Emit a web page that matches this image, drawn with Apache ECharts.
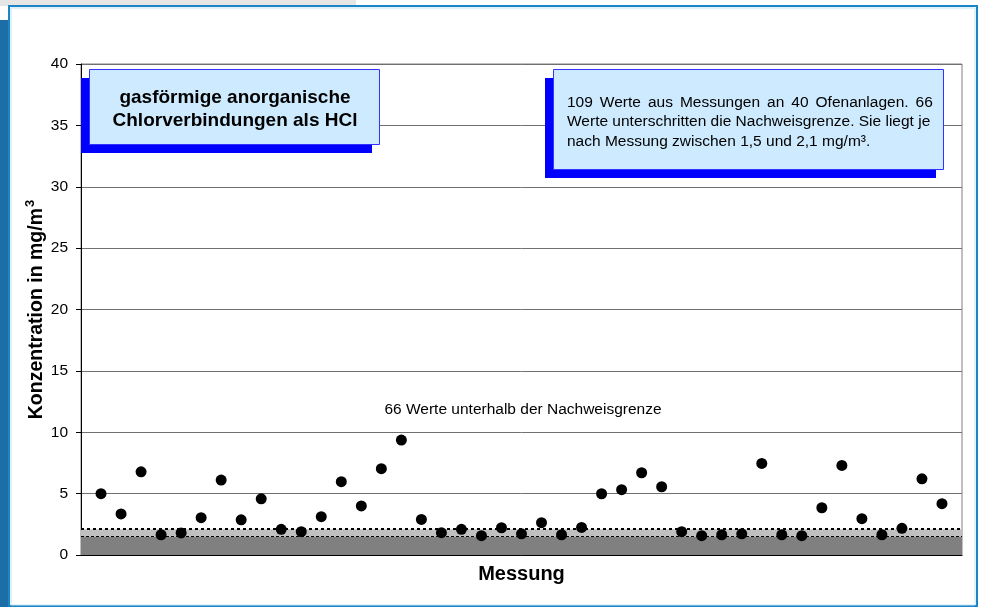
<!DOCTYPE html>
<html>
<head>
<meta charset="utf-8">
<script src="https://cdn.jsdelivr.net/npm/echarts@6/dist/echarts.min.js"></script>
<style>
html,body{margin:0;padding:0;background:#fff;}
#chart{width:981px;height:607px;}
</style>
</head>
<body>
<div id="chart"></div>
<script>
// ---- Data ----
var measurementIndex = [1,2,3,4,5,6,7,8,9,10,11,12,13,14,15,16,17,18,19,20,21,22,23,24,25,26,27,28,29,30,31,32,33,34,35,36,37,38,39,40,41,42,43];
var concentration = [5.0,3.35,6.78,1.65,1.8,3.04,6.1,2.87,4.58,2.09,1.9,3.12,5.97,4.0,7.03,9.36,2.9,1.82,2.09,1.57,2.22,1.73,2.63,1.65,2.25,4.99,5.32,6.7,5.56,1.9,1.57,1.65,1.73,7.46,1.65,1.57,3.85,7.3,2.96,1.65,2.17,6.21,4.18];
var detectionLimits = [1.5, 2.1];
var yTicks = [0,5,10,15,20,25,30,35,40];
var titleText = ['gasförmige anorganische', 'Chlorverbindungen als HCl'];
var infoLine1Words = ['109', 'Werte', 'aus', 'Messungen', 'an', '40', 'Ofenanlagen.', '66'];
var infoLines = ['Werte unterschritten die Nachweisgrenze. Sie liegt je', 'nach Messung zwischen 1,5 und 2,1 mg/m³.'];
var noteText = '66 Werte unterhalb der Nachweisgrenze';
var xName = 'Messung';
var yName = 'Konzentration in mg/m';

var FONT = '"Liberation Sans", Arial, sans-serif';
var chart = echarts.init(document.getElementById('chart'));

var points = measurementIndex.map(function(x, i){ return [x, concentration[i]]; });
var infoText = infoLine1Words.join('{g| }') + '\n' + infoLines.join('\n');

var option = {
  animation: false,
  backgroundColor: '#ffffff',
  grid: {left: 81, right: 19, top: 64, bottom: 52, show: true, borderColor: '#808080', borderWidth: 1, backgroundColor: 'transparent'},
  xAxis: {
    type: 'value', min: 0, max: measurementIndex.length + 1,
    axisLine: {show: true, onZero: false, lineStyle: {color: '#000', width: 1}},
    axisTick: {show: false}, axisLabel: {show: false}, splitLine: {show: false},
    name: xName, nameLocation: 'middle', nameGap: 9,
    nameTextStyle: {fontFamily: FONT, fontSize: 20, fontWeight: 'bold', color: '#000', lineHeight: 20}
  },
  yAxis: {
    type: 'value', min: yTicks[0], max: yTicks[yTicks.length-1], interval: 5,
    axisLine: {show: true, lineStyle: {color: '#000', width: 1}},
    axisTick: {show: true, length: 5, inside: false, lineStyle: {color: '#000'}},
    axisLabel: {fontFamily: FONT, fontSize: 15.5, color: '#000', margin: 13},
    splitLine: {show: true, lineStyle: {color: '#707070', width: 1}},
    name: '{m|' + yName + '}{s|3}', nameLocation: 'middle', nameRotate: 90, nameGap: 31,
    nameMoveOverlap: false,
    nameTextStyle: {
      rich: {
        m: {fontFamily: FONT, fontSize: 19.5, fontWeight: 'bold', color: '#000', lineHeight: 26},
        s: {fontFamily: FONT, fontSize: 13, fontWeight: 'bold', color: '#000', verticalAlign: 'top', padding: [0,0,0,1]}
      }
    }
  },
  series: [{
    type: 'scatter',
    data: points,
    symbol: 'circle', symbolSize: 11,
    itemStyle: {color: '#000', opacity: 1},
    z: 5,
    markArea: {
      silent: true,
      data: [
        [{yAxis: 0, itemStyle: {color: '#808080', opacity: 1}}, {yAxis: detectionLimits[0]}],
        [{yAxis: detectionLimits[0], itemStyle: {color: '#c0c0c0', opacity: 1}}, {yAxis: detectionLimits[1]}]
      ]
    },
    markLine: {
      silent: true, symbol: 'none', label: {show: false},
      data: [
        {yAxis: detectionLimits[1], lineStyle: {color: '#000', type: [3,3], width: 2, opacity: 1}},
        {yAxis: detectionLimits[0], lineStyle: {color: '#000', type: [3,2], width: 1, opacity: 1}}
      ]
    }
  }],
  graphic: [
    {type: 'rect', shape: {x: 0, y: 0, width: 356, height: 6}, style: {fill: '#e6e6e6'}, z: 100},
    {type: 'rect', shape: {x: 0, y: 20, width: 8, height: 587}, style: {fill: '#1c6ea6'}, z: 100},
    {type: 'rect', shape: {x: 9, y: 6, width: 968, height: 600}, style: {fill: 'none', stroke: '#1a86c6', lineWidth: 2}, z: 100},
    {type: 'rect', shape: {x: 11, y: 8, width: 964, height: 597}, style: {fill: 'none', stroke: '#bfe3f5', lineWidth: 1}, z: 100},
    // title box
    {type: 'rect', shape: {x: 81, y: 78, width: 291, height: 75}, style: {fill: '#0000ff'}, z: 20},
    {type: 'rect', shape: {x: 89.5, y: 69.5, width: 290, height: 75}, style: {fill: '#cdeafe', stroke: '#3333ff', lineWidth: 1}, z: 21},
    {type: 'text', x: 235, y: 109.5, style: {text: titleText.join('\n'), fontFamily: FONT, fontSize: 19, fontWeight: 'bold', fill: '#000', align: 'center', verticalAlign: 'middle', lineHeight: 23.5}, z: 22},
    // info box
    {type: 'rect', shape: {x: 545, y: 78, width: 391, height: 100}, style: {fill: '#0000ff'}, z: 20},
    {type: 'rect', shape: {x: 553.5, y: 69.5, width: 390, height: 100}, style: {fill: '#cdeafe', stroke: '#3333ff', lineWidth: 1}, z: 21},
    {type: 'text', x: 567, y: 122, style: {text: infoText, fontFamily: FONT, fontSize: 15.5, fill: '#000', align: 'left', verticalAlign: 'middle', lineHeight: 19.5,
      rich: {g: {width: 7, fontFamily: FONT, fontSize: 15.5}}}, z: 22},
    // note
    {type: 'text', x: 523, y: 410, style: {text: noteText, fontFamily: FONT, fontSize: 15.5, fill: '#000', align: 'center', verticalAlign: 'middle'}, z: 22}
  ]
};
chart.setOption(option);
</script>
</body>
</html>
